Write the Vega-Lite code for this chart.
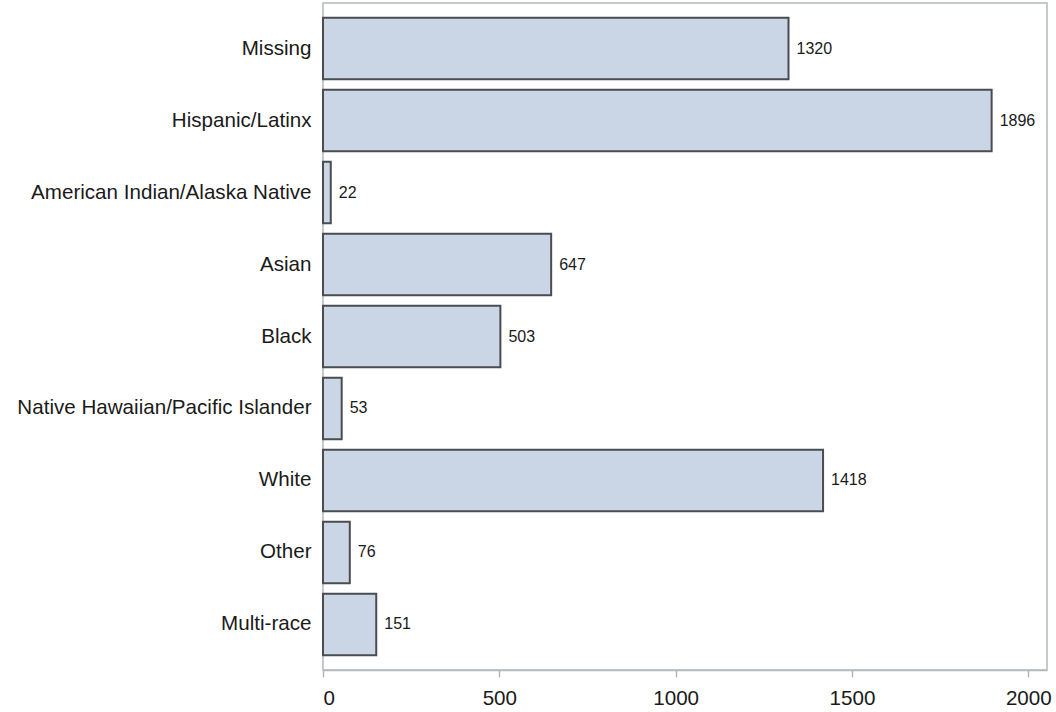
{
  "$schema": "https://vega.github.io/schema/vega-lite/v6.json",
  "autosize": "none",
  "padding": {"left": 323, "top": 3, "right": 9, "bottom": 42},
  "width": 724,
  "height": 667,
  "data": {
    "values": [
      {"group": "Missing", "count": 1320},
      {"group": "Hispanic/Latinx", "count": 1896},
      {"group": "American Indian/Alaska Native", "count": 22},
      {"group": "Asian", "count": 647},
      {"group": "Black", "count": 503},
      {"group": "Native Hawaiian/Pacific Islander", "count": 53},
      {"group": "White", "count": 1418},
      {"group": "Other", "count": 76},
      {"group": "Multi-race", "count": 151}
    ]
  },
  "encoding": {
    "y": {
      "field": "group", "type": "nominal", "sort": null,
      "scale": {"paddingInner": 0.146, "paddingOuter": 0.205},
      "axis": {"title": null, "ticks": false, "domain": false, "labelFontSize": 20.6, "labelPadding": 12, "labelColor": "#1a1a1a", "labelLimit": 400}
    },
    "x": {
      "field": "count", "type": "quantitative",
      "scale": {"domain": [0, 2053], "nice": false},
      "axis": {"title": null, "grid": false, "values": [0, 500, 1000, 1500, 2000], "format": "d", "labelFontSize": 20.6, "labelColor": "#1a1a1a", "tickSize": 7, "tickWidth": 1.5, "tickColor": "#b4b8bc", "domainColor": "#b4b8bc", "domainWidth": 1.5, "labelPadding": 11}
    }
  },
  "layer": [
    {"mark": {"type": "bar", "fill": "#cad5e5", "stroke": "#4a4c50", "strokeWidth": 2}},
    {
      "mark": {"type": "text", "align": "left", "baseline": "middle", "dx": 8, "fontSize": 16, "color": "#1a1a1a"},
      "encoding": {"text": {"field": "count", "type": "quantitative"}}
    }
  ],
  "config": {
    "font": "Liberation Sans",
    "view": {"stroke": "#b4b8bc", "strokeWidth": 1.5}
  }
}
